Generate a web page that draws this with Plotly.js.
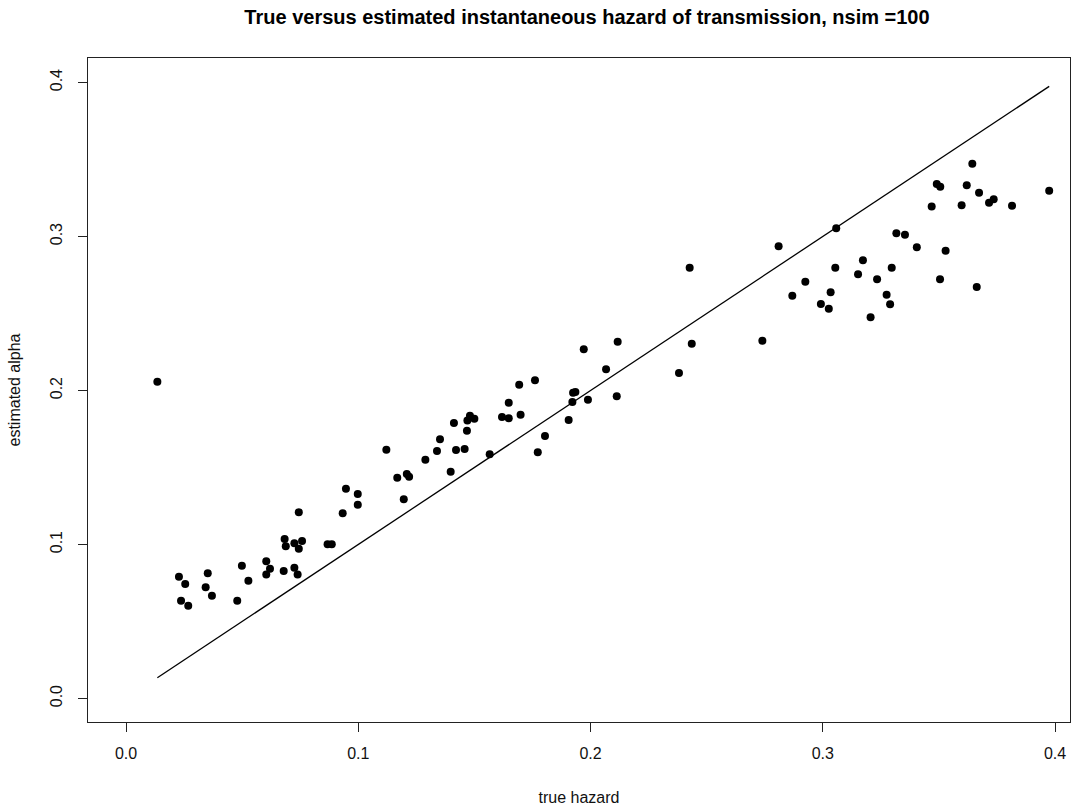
<!DOCTYPE html>
<html>
<head>
<meta charset="utf-8">
<script src="https://cdn.plot.ly/plotly-3.0.1.min.js"></script>
<style>
  html, body { margin: 0; padding: 0; background: #ffffff; }
  #chart { width: 1084px; height: 810px; }
</style>
</head>
<body>
<div id="chart"></div>
<script>
// True instantaneous hazard for each simulation (nsim = 100)
const trueHazard = [
  0.0135, 0.0228, 0.0255, 0.0237, 0.0268, 0.0352, 0.0343, 0.0370, 0.0479, 0.0499,
  0.0527, 0.0604, 0.0620, 0.0604, 0.0679, 0.0725, 0.0739, 0.0683, 0.0688, 0.0725,
  0.0744, 0.0758, 0.0744, 0.0868, 0.0886, 0.0947, 0.0998, 0.0998, 0.0933, 0.1121,
  0.1168, 0.1209, 0.1219, 0.1196, 0.1289, 0.1339, 0.1352, 0.1398, 0.1412, 0.1421,
  0.1458, 0.1468, 0.1470, 0.1481, 0.1500, 0.1566, 0.1619, 0.1648, 0.1648, 0.1693,
  0.1699, 0.1761, 0.1773, 0.1804, 0.1906, 0.1922, 0.1925, 0.1935, 0.1971, 0.1989,
  0.2067, 0.2113, 0.2117, 0.2381, 0.2427, 0.2436, 0.2740, 0.2810, 0.3058, 0.3054,
  0.2925, 0.2869, 0.3034, 0.2992, 0.3026, 0.3644, 0.3491, 0.3506, 0.3620, 0.3673,
  0.3716, 0.3736, 0.3975, 0.3815, 0.3469, 0.3598, 0.3317, 0.3354, 0.3405, 0.3529,
  0.3173, 0.3297, 0.3152, 0.3234, 0.3505, 0.3275, 0.3663, 0.3290, 0.3206
];

// Estimated alpha from the fitted model, same order as trueHazard
const estimatedAlpha = [
  0.2057, 0.0791, 0.0744, 0.0635, 0.0603, 0.0813, 0.0722, 0.0668, 0.0635, 0.0862,
  0.0765, 0.0891, 0.0843, 0.0806, 0.0828, 0.0849, 0.0806, 0.1036, 0.0988, 0.1008,
  0.0973, 0.1023, 0.1209, 0.1001, 0.1001, 0.1362, 0.1328, 0.1258, 0.1203, 0.1616,
  0.1434, 0.1458, 0.1440, 0.1294, 0.1551, 0.1607, 0.1683, 0.1473, 0.1789, 0.1614,
  0.1620, 0.1739, 0.1806, 0.1836, 0.1817, 0.1586, 0.1828, 0.1819, 0.1921, 0.2038,
  0.1843, 0.2066, 0.1599, 0.1705, 0.1808, 0.1925, 0.1986, 0.1990, 0.2268, 0.1940,
  0.2138, 0.1962, 0.2317, 0.2114, 0.2797, 0.2304, 0.2323, 0.2936, 0.3053, 0.2797,
  0.2706, 0.2616, 0.2638, 0.2562, 0.2531, 0.3473, 0.3341, 0.3323, 0.3332, 0.3284,
  0.3219, 0.3242, 0.3297, 0.3200, 0.3194, 0.3203, 0.3021, 0.3012, 0.2930, 0.2908,
  0.2845, 0.2797, 0.2755, 0.2722, 0.2722, 0.2622, 0.2672, 0.2560, 0.2475
];

const tickValues = [0.0, 0.1, 0.2, 0.3, 0.4];
const tickLabels = ["0.0", "0.1", "0.2", "0.3", "0.4"];

// Identity reference line, traced through the true hazards themselves
const identityX = trueHazard.slice().sort((a, b) => a - b);
const identityY = identityX.slice();

const ink = "#111111";
const fontFamily = "Liberation Sans, Arial, sans-serif";

const points = {
  type: "scatter",
  mode: "markers",
  x: trueHazard,
  y: estimatedAlpha,
  marker: { color: "#000000", size: 8, line: { width: 0 } },
  hoverinfo: "x+y",
  showlegend: false
};

const identity = {
  type: "scatter",
  mode: "lines",
  x: identityX,
  y: identityY,
  line: { color: "#000000", width: 1.3 },
  hoverinfo: "skip",
  showlegend: false
};

const axisCommon = {
  showgrid: false,
  zeroline: false,
  showline: true,
  linecolor: "#222222",
  linewidth: 1,
  mirror: true,
  ticks: "outside",
  ticklen: 9,
  tickwidth: 1,
  tickcolor: "#222222",
  tickmode: "array",
  tickvals: tickValues,
  ticktext: tickLabels,
  tickfont: { family: fontFamily, size: 16, color: ink }
};

const layout = {
  width: 1084,
  height: 810,
  paper_bgcolor: "#ffffff",
  plot_bgcolor: "#ffffff",
  margin: { l: 88, r: 14, t: 58, b: 88 },
  title: {
    text: "True versus estimated instantaneous hazard of transmission, nsim =100",
    font: { family: fontFamily, size: 20, color: "#000000", weight: "bold" },
    x: 0.5415,
    xanchor: "center",
    y: 0.979,
    yanchor: "middle"
  },
  xaxis: Object.assign({}, axisCommon, {
    range: [-0.01636, 0.40646],
    ticklabelstandoff: 8,
    title: {
      text: "true hazard",
      font: { family: fontFamily, size: 16, color: ink },
      standoff: 30
    }
  }),
  yaxis: Object.assign({}, axisCommon, {
    range: [-0.01526, 0.41591],
    tickangle: -90,
    ticklabelstandoff: 10,
    title: {
      text: "estimated alpha",
      font: { family: fontFamily, size: 16, color: ink },
      standoff: 22
    }
  })
};

Plotly.newPlot("chart", [identity, points], layout, { displayModeBar: false, staticPlot: true });
</script>
</body>
</html>
